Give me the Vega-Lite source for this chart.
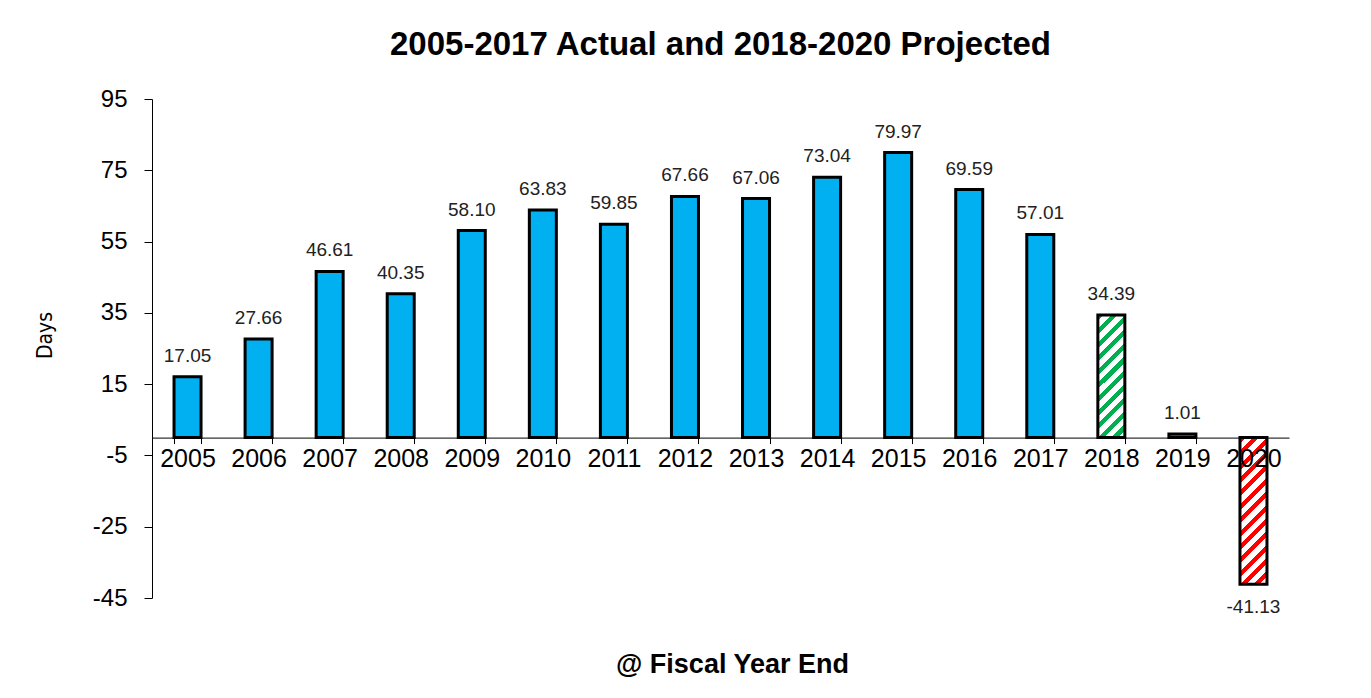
{
  "$schema": "https://vega.github.io/schema/vega-lite/v6.json",
  "width": 1137,
  "height": 499,
  "autosize": {"type": "none"},
  "padding": {"left": 152, "top": 99, "right": 82, "bottom": 100},
  "background": "white",
  "title": {
    "text": "2005-2017 Actual and 2018-2020 Projected",
    "font": "Liberation Sans",
    "fontSize": 33,
    "fontWeight": "bold",
    "color": "black",
    "anchor": "middle",
    "baseline": "alphabetic",
    "offset": -1
  },
  "data": {
    "values": [
      {"year": "2005", "days": 17.05},
      {"year": "2006", "days": 27.66},
      {"year": "2007", "days": 46.61},
      {"year": "2008", "days": 40.35},
      {"year": "2009", "days": 58.10},
      {"year": "2010", "days": 63.83},
      {"year": "2011", "days": 59.85},
      {"year": "2012", "days": 67.66},
      {"year": "2013", "days": 67.06},
      {"year": "2014", "days": 73.04},
      {"year": "2015", "days": 79.97},
      {"year": "2016", "days": 69.59},
      {"year": "2017", "days": 57.01},
      {"year": "2018", "days": 34.39},
      {"year": "2019", "days": 1.01},
      {"year": "2020", "days": -41.13}
    ]
  },
  "encoding": {
    "x": {
      "field": "year",
      "type": "nominal",
      "scale": {"type": "band", "paddingInner": 0.62, "paddingOuter": 0.31},
      "axis": {
        "title": "@ Fiscal Year End",
        "titleFont": "Liberation Sans",
        "titleFontSize": 27,
        "titleFontWeight": "bold",
        "titleColor": "black",
        "titleX": 580,
        "titleY": 235,
        "titleAlign": "center",
        "titleBaseline": "alphabetic",
        "offset": -160.4,
        "zindex": 1,
        "labelAngle": 0,
        "labelFont": "Liberation Sans",
        "labelFontSize": 25,
        "labelColor": "black",
        "labelPadding": 3,
        "labelOverlap": false,
        "tickBand": "extent",
        "tickSize": 6,
        "tickColor": "black",
        "domainColor": "black",
        "grid": false
      }
    },
    "y": {
      "field": "days",
      "type": "quantitative",
      "scale": {"domain": [-45, 95], "nice": false, "zero": false},
      "axis": {
        "title": "Days",
        "titleFont": "Liberation Sans Narrow, DejaVu Sans Condensed",
        "titleFontSize": 21,
        "titleFontWeight": "normal",
        "titleColor": "black",
        "titleAngle": 270,
        "titleX": -107,
        "titleY": 236,
        "titleAlign": "center",
        "titleBaseline": "middle",
        "values": [95, 75, 55, 35, 15, -5, -25, -45],
        "labelFont": "Liberation Sans",
        "labelFontSize": 24,
        "labelColor": "black",
        "labelPadding": 17,
        "tickSize": 8,
        "tickColor": "black",
        "domainColor": "black",
        "grid": false
      }
    }
  },
  "layer": [
    {
      "transform": [{"filter": "datum.year != '2018' && datum.year != '2020'"}],
      "mark": {"type": "bar", "fill": "#00B0F0", "stroke": "black", "strokeWidth": 3}
    },
    {
      "transform": [{"filter": "datum.year == '2018'"}],
      "mark": {
        "type": "bar",
        "stroke": "black",
        "strokeWidth": 3,
        "fill": {
          "gradient": "linear",
          "x1": 0, "y1": 0, "x2": 0.256, "y2": 1.164,
          "stops": [
            {"offset": 0, "color": "#00B050"}, {"offset": 0.0409, "color": "#00B050"}, {"offset": 0.0409, "color": "white"}, {"offset": 0.0909, "color": "white"},
            {"offset": 0.0909, "color": "#00B050"}, {"offset": 0.1318, "color": "#00B050"}, {"offset": 0.1318, "color": "white"}, {"offset": 0.1818, "color": "white"},
            {"offset": 0.1818, "color": "#00B050"}, {"offset": 0.2227, "color": "#00B050"}, {"offset": 0.2227, "color": "white"}, {"offset": 0.2727, "color": "white"},
            {"offset": 0.2727, "color": "#00B050"}, {"offset": 0.3136, "color": "#00B050"}, {"offset": 0.3136, "color": "white"}, {"offset": 0.3636, "color": "white"},
            {"offset": 0.3636, "color": "#00B050"}, {"offset": 0.4045, "color": "#00B050"}, {"offset": 0.4045, "color": "white"}, {"offset": 0.4545, "color": "white"},
            {"offset": 0.4545, "color": "#00B050"}, {"offset": 0.4955, "color": "#00B050"}, {"offset": 0.4955, "color": "white"}, {"offset": 0.5455, "color": "white"},
            {"offset": 0.5455, "color": "#00B050"}, {"offset": 0.5864, "color": "#00B050"}, {"offset": 0.5864, "color": "white"}, {"offset": 0.6364, "color": "white"},
            {"offset": 0.6364, "color": "#00B050"}, {"offset": 0.6773, "color": "#00B050"}, {"offset": 0.6773, "color": "white"}, {"offset": 0.7273, "color": "white"},
            {"offset": 0.7273, "color": "#00B050"}, {"offset": 0.7682, "color": "#00B050"}, {"offset": 0.7682, "color": "white"}, {"offset": 0.8182, "color": "white"},
            {"offset": 0.8182, "color": "#00B050"}, {"offset": 0.8591, "color": "#00B050"}, {"offset": 0.8591, "color": "white"}, {"offset": 0.9091, "color": "white"},
            {"offset": 0.9091, "color": "#00B050"}, {"offset": 0.95, "color": "#00B050"}, {"offset": 0.95, "color": "white"}, {"offset": 1, "color": "white"}
          ]
        }
      }
    },
    {
      "transform": [{"filter": "datum.year == '2020'"}],
      "mark": {
        "type": "bar",
        "stroke": "black",
        "strokeWidth": 3,
        "fill": {
          "gradient": "linear",
          "x1": 0, "y1": 0, "x2": 0.211, "y2": 1.145,
          "stops": [
            {"offset": 0, "color": "#FF0000"}, {"offset": 0.0346, "color": "#FF0000"}, {"offset": 0.0346, "color": "white"}, {"offset": 0.0769, "color": "white"},
            {"offset": 0.0769, "color": "#FF0000"}, {"offset": 0.1115, "color": "#FF0000"}, {"offset": 0.1115, "color": "white"}, {"offset": 0.1538, "color": "white"},
            {"offset": 0.1538, "color": "#FF0000"}, {"offset": 0.1885, "color": "#FF0000"}, {"offset": 0.1885, "color": "white"}, {"offset": 0.2308, "color": "white"},
            {"offset": 0.2308, "color": "#FF0000"}, {"offset": 0.2654, "color": "#FF0000"}, {"offset": 0.2654, "color": "white"}, {"offset": 0.3077, "color": "white"},
            {"offset": 0.3077, "color": "#FF0000"}, {"offset": 0.3423, "color": "#FF0000"}, {"offset": 0.3423, "color": "white"}, {"offset": 0.3846, "color": "white"},
            {"offset": 0.3846, "color": "#FF0000"}, {"offset": 0.4192, "color": "#FF0000"}, {"offset": 0.4192, "color": "white"}, {"offset": 0.4615, "color": "white"},
            {"offset": 0.4615, "color": "#FF0000"}, {"offset": 0.4962, "color": "#FF0000"}, {"offset": 0.4962, "color": "white"}, {"offset": 0.5385, "color": "white"},
            {"offset": 0.5385, "color": "#FF0000"}, {"offset": 0.5731, "color": "#FF0000"}, {"offset": 0.5731, "color": "white"}, {"offset": 0.6154, "color": "white"},
            {"offset": 0.6154, "color": "#FF0000"}, {"offset": 0.65, "color": "#FF0000"}, {"offset": 0.65, "color": "white"}, {"offset": 0.6923, "color": "white"},
            {"offset": 0.6923, "color": "#FF0000"}, {"offset": 0.7269, "color": "#FF0000"}, {"offset": 0.7269, "color": "white"}, {"offset": 0.7692, "color": "white"},
            {"offset": 0.7692, "color": "#FF0000"}, {"offset": 0.8038, "color": "#FF0000"}, {"offset": 0.8038, "color": "white"}, {"offset": 0.8462, "color": "white"},
            {"offset": 0.8462, "color": "#FF0000"}, {"offset": 0.8808, "color": "#FF0000"}, {"offset": 0.8808, "color": "white"}, {"offset": 0.9231, "color": "white"},
            {"offset": 0.9231, "color": "#FF0000"}, {"offset": 0.9577, "color": "#FF0000"}, {"offset": 0.9577, "color": "white"}, {"offset": 1, "color": "white"}
          ]
        }
      }
    },
    {
      "transform": [{"filter": "datum.days >= 0"}],
      "mark": {"type": "text", "font": "Liberation Sans", "fontSize": 19, "color": "#222222", "baseline": "alphabetic", "align": "center", "dy": -15},
      "encoding": {"text": {"field": "days", "type": "quantitative", "format": ".2f"}}
    },
    {
      "transform": [{"filter": "datum.days < 0"}],
      "mark": {"type": "text", "font": "Liberation Sans", "fontSize": 19, "color": "#222222", "baseline": "alphabetic", "align": "center", "dy": 29},
      "encoding": {"text": {"field": "days", "type": "quantitative", "format": ".2f"}}
    }
  ],
  "config": {
    "view": {"stroke": null},
    "locale": {
      "number": {
        "decimal": ".",
        "thousands": ",",
        "grouping": [3],
        "currency": ["$", ""],
        "minus": "-"
      }
    }
  }
}
